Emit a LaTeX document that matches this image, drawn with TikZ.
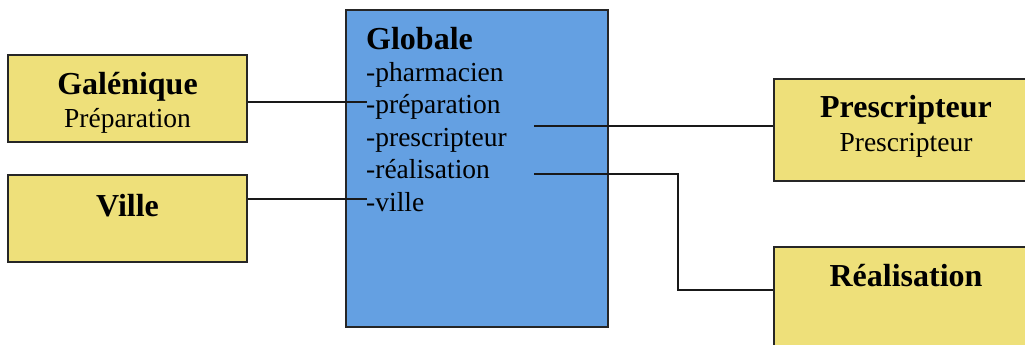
\documentclass[tikz,border=0pt]{standalone}
\usepackage{fontspec}
\setmainfont{Liberation Serif}
\usetikzlibrary{positioning}
\definecolor{boxyellow}{RGB}{238,224,122}
\definecolor{boxblue}{RGB}{100,160,226}
\newcommand{\titlefont}{\fontsize{32}{36}\selectfont\bfseries}
\newcommand{\itemfont}{\fontsize{27.5}{32}\selectfont}
\tikzset{
  yellowbox/.style={draw=black!85, line width=1.8pt, fill=boxyellow, inner sep=0pt},
  bluebox/.style={draw=black!85, line width=1.8pt, fill=boxblue, inner sep=0pt},
  titletext/.style={inner sep=0pt, anchor=base, font=\titlefont},
  subtext/.style={inner sep=0pt, anchor=base, font=\itemfont},
  itemtext/.style={inner sep=0pt, anchor=base west, font=\itemfont},
  conn/.style={draw=black!90, line width=1.8pt}
}

\begin{document}
\begin{tikzpicture}[x=1pt,y=1pt]
\useasboundingbox (0,0) rectangle (1025,345);
%boxes
\node[yellowbox, minimum width=239pt, minimum height=87pt] (gal) at (127.5,246.5) {};
\node[yellowbox, minimum width=239pt, minimum height=87pt] (ville) at (127.5,126.5) {};
\node[bluebox, minimum width=262pt, minimum height=317pt] (glob) at (477,176.5) {};
\node[yellowbox, minimum width=266pt, minimum height=102pt] (presc) at (907,215) {};
\node[yellowbox, minimum width=266pt, minimum height=113pt] (real) at (907,41.5) {};
%texts
\node[titletext] (galtitle) at (127.5,250) {Galénique};
\node[subtext] (galsub) at (127.5,217) {Préparation};
\node[titletext] (villetitle) at (127.5,128) {Ville};
\node[titletext] (presctitle) at (906,227) {Prescripteur};
\node[subtext] (prescsub) at (906,193) {Prescripteur};
\node[titletext] (realtitle) at (906,58) {Réalisation};
\node[titletext, anchor=base west] (globtitle) at (366,295) {Globale};
\foreach \txt/\nm/\yy in {pharmacien/pharm/263, préparation/prep/231, prescripteur/presci/198, réalisation/reali/166, ville/vil/133}
  \node[itemtext] (\nm) at (366,\yy) {-\txt};
%connectors
\coordinate (galend) at (367,243);
\coordinate (villeend) at (367,146);
\coordinate (prescstart) at (534,219);
\coordinate (realstart) at (534,171);
\coordinate (realbend) at (678,55);
\draw[conn] (galend -| gal.east) -- (galend);
\draw[conn] (villeend -| ville.east) -- (villeend);
\draw[conn] (prescstart) -- (prescstart -| presc.west);
\draw[conn] (realstart) -| (realbend) -- (realbend -| real.west);
\end{tikzpicture}
\end{document}
